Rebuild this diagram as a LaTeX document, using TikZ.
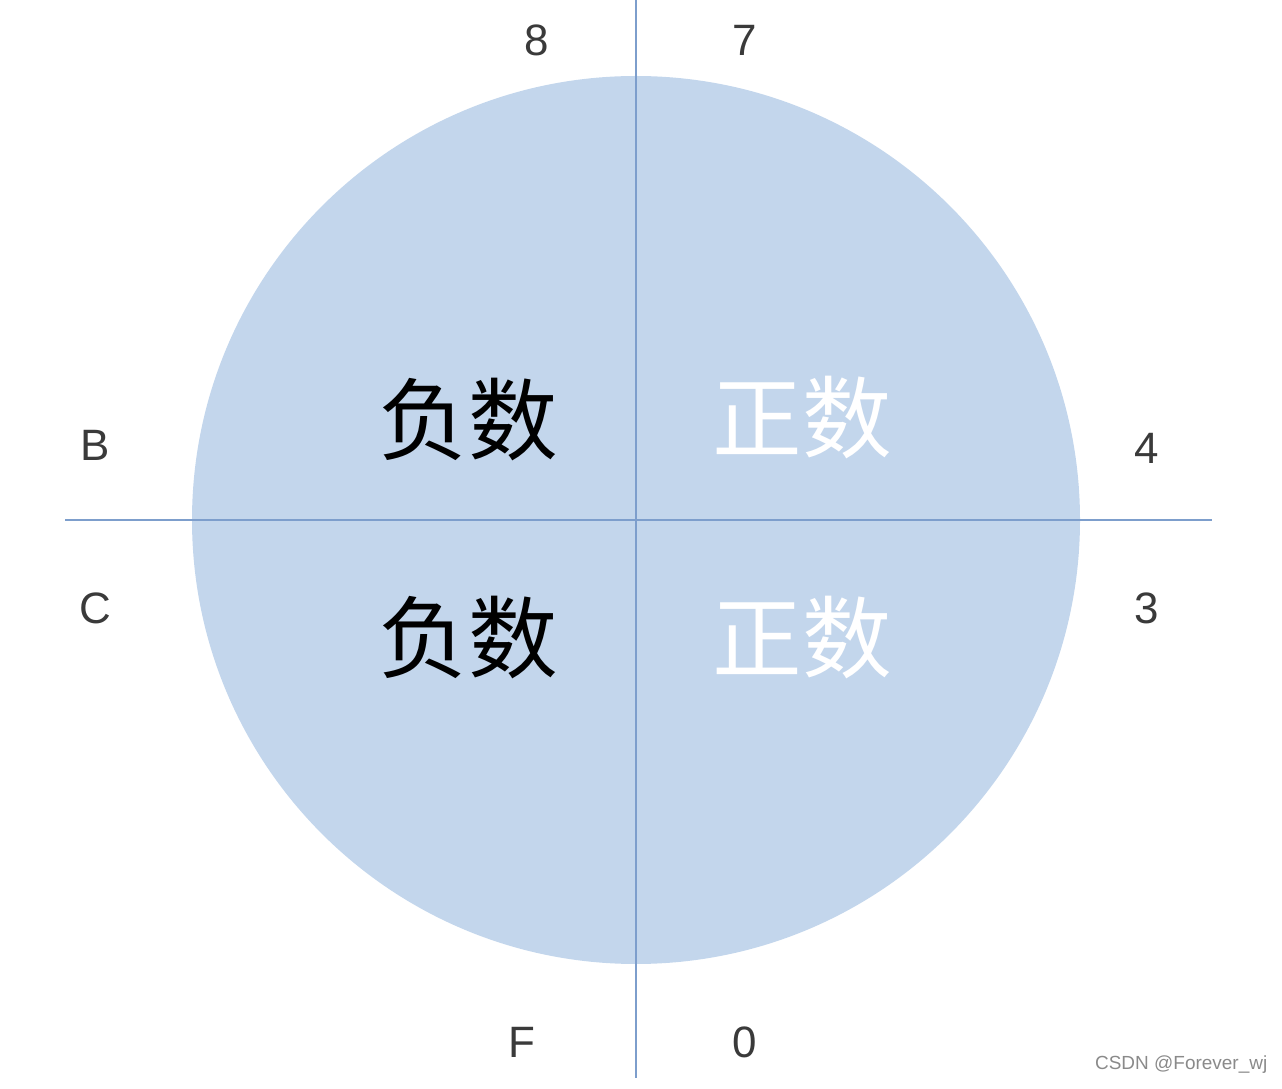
\documentclass[tikz,border=0pt]{standalone}
\usepackage{fontspec}
\setmainfont{Liberation Sans}
\newfontfamily\cjk{Noto Sans CJK SC}
\usepackage{tikz}
\usetikzlibrary{positioning}
\definecolor{discfill}{HTML}{C3D6EC}
\definecolor{axiscolor}{HTML}{7D9ECC}
\definecolor{labelcolor}{HTML}{3A3A3A}
\definecolor{markcolor}{HTML}{8A8A8A}

\tikzset{
  axis/.style={draw=axiscolor, line width=0.8pt},
  corner/.style={text=labelcolor, font=\fontsize{12.5}{14}\selectfont, inner sep=0pt},
  signneg/.style={text=black, font=\cjk\fontsize{25.5}{28}\selectfont, inner sep=0pt},
  signpos/.style={text=white, font=\cjk\fontsize{25.5}{28}\selectfont, inner sep=0pt}
}

\begin{document}
\begin{tikzpicture}
\useasboundingbox (0,0) rectangle (12.82,10.88);
\fill[discfill] (6.36,5.68) circle (4.44cm);
% axes
\coordinate (top) at (6.36,10.88);
\coordinate (bottom) at (6.36,0.10);
\coordinate (left) at (0.65,5.68);
\coordinate (right) at (12.12,5.68);
\draw[axis] (top) -- (bottom);
\draw[axis] (left) -- (right);
% quadrant texts
\node[signneg] (neghi) at (4.68,6.68) {负数};
\node[signpos] (poshi) at (8.02,6.70) {正数};
\node[signneg] (neglo) at (4.68,4.50) {负数};
\node[signpos] (poslo) at (8.02,4.50) {正数};
% hex digits round the circle
\node[corner] (d8) at (5.37,10.48) {8};
\node[corner] (d7) at (7.45,10.48) {7};
\node[corner] (dB) at (0.95,6.43) {B};
\node[corner] (d4) at (11.47,6.40) {4};
\node[corner] (dC) at (0.95,4.80) {C};
\node[corner] (d3) at (11.47,4.80) {3};
\node[corner] (dF) at (5.22,0.46) {F};
\node[corner] (d0) at (7.45,0.46) {0};
\node[text=markcolor, font=\fontsize{5.4}{6}\selectfont, anchor=east, inner sep=0pt] (mark) at (12.68,0.23) {CSDN @Forever\_wj};
\end{tikzpicture}
\end{document}
